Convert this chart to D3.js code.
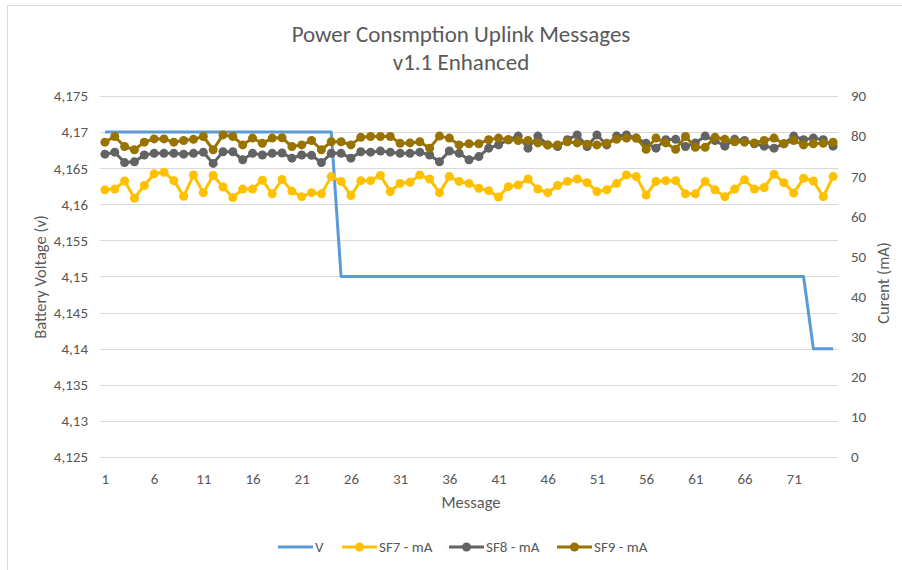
<!DOCTYPE html>
<html lang="en">
  <head>
    <meta charset="utf-8">
    <title>Power Consmption Uplink Messages</title>
    <script type="text/javascript" src="https://cdn.jsdelivr.net/npm/d3@7"></script>
    <style type="text/css">
      body { margin: 0; background: #fff; }
      text { font-family: Calibri, Carlito, "Open Sans", sans-serif; fill: #595959; }
    </style>
  </head>
  <body>
    <script type="text/javascript">

      //Width and height
      var w = 902;
      var h = 570;

      // Data
      var messages = d3.range(1, 76);

      var voltage = [
        4.17, 4.17, 4.17, 4.17, 4.17, 4.17, 4.17, 4.17, 4.17, 4.17,
        4.17, 4.17, 4.17, 4.17, 4.17, 4.17, 4.17, 4.17, 4.17, 4.17,
        4.17, 4.17, 4.17, 4.17, 4.15, 4.15, 4.15, 4.15, 4.15, 4.15,
        4.15, 4.15, 4.15, 4.15, 4.15, 4.15, 4.15, 4.15, 4.15, 4.15,
        4.15, 4.15, 4.15, 4.15, 4.15, 4.15, 4.15, 4.15, 4.15, 4.15,
        4.15, 4.15, 4.15, 4.15, 4.15, 4.15, 4.15, 4.15, 4.15, 4.15,
        4.15, 4.15, 4.15, 4.15, 4.15, 4.15, 4.15, 4.15, 4.15, 4.15,
        4.15, 4.15, 4.14, 4.14, 4.14
      ];

      var sf7 = [
        66.6, 66.8, 68.8, 64.5, 67.7, 70.6, 71.0, 68.9, 65.0, 70.3,
        65.9, 70.2, 67.3, 64.7, 66.8, 66.8, 69.0, 65.6, 69.2, 66.3,
        64.9, 65.9, 65.6, 69.9, 68.7, 65.2, 68.9, 68.9, 70.2, 66.2,
        68.2, 68.5, 70.3, 69.3, 65.9, 69.9, 68.7, 68.2, 67.0, 66.4,
        64.8, 67.4, 67.8, 69.3, 66.8, 65.9, 67.7, 68.7, 69.3, 68.4,
        66.2, 66.6, 68.2, 70.3, 69.9, 65.3, 68.7, 68.9, 68.9, 65.6,
        65.6, 68.7, 66.6, 64.9, 66.8, 69.1, 66.8, 67.2, 70.5, 68.4,
        65.8, 69.5, 68.8, 64.9, 69.9
      ];

      var sf8 = [
        75.5, 76.0, 73.4, 73.6, 75.3, 75.7, 75.7, 75.7, 75.5, 75.7,
        76.0, 73.2, 76.1, 76.1, 74.1, 75.7, 75.3, 75.7, 75.8, 74.5,
        75.3, 75.2, 73.4, 75.7, 75.7, 74.5, 76.1, 76.0, 76.3, 76.0,
        75.7, 75.7, 76.0, 75.3, 73.6, 76.3, 75.7, 74.1, 74.9, 77.0,
        77.8, 79.1, 80.0, 77.0, 80.0, 77.8, 77.4, 79.1, 80.3, 77.4,
        80.3, 77.8, 80.0, 80.3, 79.5, 78.2, 77.0, 79.1, 79.2, 77.4,
        78.3, 80.0, 78.9, 77.5, 79.2, 78.9, 78.1, 77.5, 77.0, 78.1,
        80.0, 79.1, 79.5, 79.1, 77.5
      ];

      var sf9 = [
        78.5, 79.9, 77.4, 76.6, 78.5, 79.3, 79.3, 78.5, 78.9, 79.2,
        79.9, 76.6, 80.3, 79.9, 77.8, 79.5, 78.2, 79.5, 79.6, 77.4,
        77.8, 78.9, 76.6, 78.6, 78.6, 77.8, 79.7, 79.9, 79.9, 79.9,
        78.2, 78.3, 78.6, 77.0, 80.0, 79.5, 77.8, 78.1, 78.1, 79.1,
        79.5, 79.1, 78.9, 78.9, 78.3, 77.8, 77.8, 78.6, 78.3, 78.0,
        77.8, 78.2, 79.2, 79.5, 79.5, 76.7, 79.5, 78.3, 76.7, 79.9,
        77.2, 77.2, 79.7, 79.2, 78.6, 78.5, 78.3, 78.9, 79.5, 78.1,
        78.9, 77.8, 78.1, 78.2, 78.5
      ];

      var voltTicks = [4.125, 4.13, 4.135, 4.14, 4.145, 4.15, 4.155, 4.16, 4.165, 4.17, 4.175];
      var currentTicks = [0, 10, 20, 30, 40, 50, 60, 70, 80, 90];
      var messageTicks = [1, 6, 11, 16, 21, 26, 31, 36, 41, 46, 51, 56, 61, 66, 71];

      var seriesNames = ["V", "SF7 - mA", "SF8 - mA", "SF9 - mA"];
      var seriesColors = ["#5b9bd5", "#ffc000", "#636363", "#997300"];

      //Plot area
      var plotLeft = 100, plotRight = 838, plotTop = 96, plotBottom = 457;
      var fontStack = "Calibri, Carlito, 'Open Sans', sans-serif";
      var tickSize = "15px";

      var svg = d3.select("body")
        .append("svg")
        .attr("width", w)
        .attr("height", h);

      // Chart border
      svg.append("rect")
        .attr("x", 7.5)
        .attr("y", 5.5)
        .attr("width", 900)
        .attr("height", 600)
        .attr("fill", "none")
        .attr("stroke", "#d9d9d9");

      // Scales
      var xScale = d3.scalePoint()
        .domain(messages)
        .range([plotLeft, plotRight])
        .padding(0.5);

      var yLeft = d3.scaleLinear()
        .domain([4.125, 4.175])
        .range([plotBottom, plotTop]);

      var yRight = d3.scaleLinear()
        .domain([0, 90])
        .range([plotBottom, plotTop]);

      var fmtVolt = function(d) {
        return d3.format(".3~f")(d).replace(".", ",");
      };

      // Gridlines
      svg.append("g")
        .selectAll("line")
        .data(voltTicks)
        .enter()
        .append("line")
        .attr("x1", plotLeft)
        .attr("x2", plotRight)
        .attr("y1", function(d) { return Math.round(yLeft(d)) + 0.5; })
        .attr("y2", function(d) { return Math.round(yLeft(d)) + 0.5; })
        .attr("stroke", "#d9d9d9")
        .attr("stroke-width", 1);

      // Left axis
      var leftAxis = svg.append("g")
        .attr("transform", "translate(" + (plotLeft - 10) + ",0)")
        .call(d3.axisLeft(yLeft).tickValues(voltTicks).tickFormat(fmtVolt).tickSize(0).tickPadding(2));
      leftAxis.select(".domain").remove();
      leftAxis.selectAll("text").attr("font-size", tickSize).attr("fill", "#595959")
        .style("font-family", fontStack);

      // Right axis
      var rightAxis = svg.append("g")
        .attr("transform", "translate(" + (plotRight + 10) + ",0)")
        .call(d3.axisRight(yRight).tickValues(currentTicks).tickSize(0).tickPadding(3));
      rightAxis.select(".domain").remove();
      rightAxis.selectAll("text").attr("font-size", tickSize).attr("fill", "#595959")
        .style("font-family", fontStack);

      // Bottom axis
      var bottomAxis = svg.append("g")
        .attr("transform", "translate(0," + (plotBottom + 13) + ")")
        .call(d3.axisBottom(xScale).tickValues(messageTicks).tickSize(0).tickPadding(3));
      bottomAxis.select(".domain").remove();
      bottomAxis.selectAll("text").attr("font-size", tickSize).attr("fill", "#595959")
        .style("font-family", fontStack);

      // Titles
      svg.append("text")
        .attr("x", 461).attr("y", 42)
        .attr("text-anchor", "middle")
        .attr("font-size", "23px")
        .text("Power Consmption Uplink Messages");

      svg.append("text")
        .attr("x", 461).attr("y", 70)
        .attr("text-anchor", "middle")
        .attr("font-size", "23px")
        .text("v1.1 Enhanced");

      svg.append("text")
        .attr("x", 471).attr("y", 508)
        .attr("text-anchor", "middle")
        .attr("font-size", "16.5px")
        .text("Message");

      svg.append("text")
        .attr("transform", "translate(46,277) rotate(-90)")
        .attr("text-anchor", "middle")
        .attr("font-size", "16.5px")
        .text("Battery Voltage (v)");

      svg.append("text")
        .attr("transform", "translate(889,283) rotate(-90)")
        .attr("text-anchor", "middle")
        .attr("font-size", "16.5px")
        .text("Curent (mA)");

      // Voltage line
      var vLine = d3.line()
        .x(function(d, i) { return xScale(messages[i]); })
        .y(function(d) { return yLeft(d); });

      svg.append("path")
        .datum(voltage)
        .attr("d", vLine)
        .attr("fill", "none")
        .attr("stroke", seriesColors[0])
        .attr("stroke-width", 3)
        .attr("stroke-linejoin", "round");

      // Current lines
      var cLine = d3.line()
        .x(function(d, i) { return xScale(messages[i]); })
        .y(function(d) { return yRight(d); });

      [sf7, sf8, sf9].forEach(function(series, k) {
        var color = seriesColors[k + 1];
        svg.append("path")
          .datum(series)
          .attr("d", cLine)
          .attr("fill", "none")
          .attr("stroke", color)
          .attr("stroke-width", 3)
          .attr("stroke-linejoin", "round");

        svg.append("g")
          .selectAll("circle")
          .data(series)
          .enter()
          .append("circle")
          .attr("cx", function(d, i) { return xScale(messages[i]); })
          .attr("cy", function(d) { return yRight(d); })
          .attr("r", 4.5)
          .attr("fill", color);
      });

      // Legend
      var legendX = [278, 342, 449, 557];
      var legend = svg.append("g");
      seriesNames.forEach(function(name, k) {
        var x0 = legendX[k];
        legend.append("line")
          .attr("x1", x0).attr("x2", x0 + 35)
          .attr("y1", 547).attr("y2", 547)
          .attr("stroke", seriesColors[k])
          .attr("stroke-width", 3);
        if (k > 0) {
          legend.append("circle")
            .attr("cx", x0 + 17.5).attr("cy", 547)
            .attr("r", 4.5)
            .attr("fill", seriesColors[k]);
        }
        legend.append("text")
          .attr("x", x0 + 37).attr("y", 552)
          .attr("font-size", tickSize)
          .text(name);
      });

    </script>
  </body>
</html>
